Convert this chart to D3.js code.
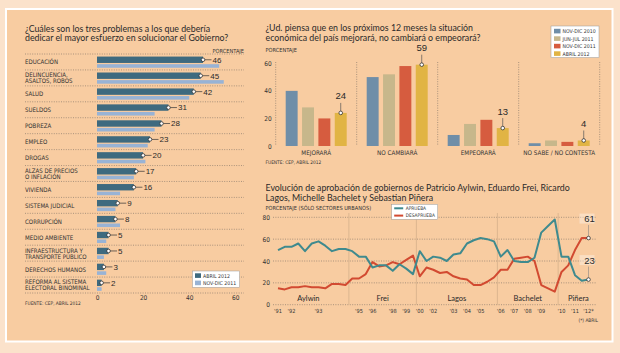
<!DOCTYPE html>
<html>
<head>
<meta charset="utf-8">
<script src="https://cdn.jsdelivr.net/npm/d3@7"></script>
<style>
  html, body { margin: 0; padding: 0; background: #fbe2cb; }
  svg { display: block; }
  .titulo { font-family: Lato, "Liberation Sans", sans-serif; font-size: 8.8px; fill: #2a2a2a; }
  .chico { font-family: "Liberation Sans Narrow", "DejaVu Sans Condensed", "Liberation Sans", sans-serif; font-size: 5.6px; fill: #333; }
  .cifra { font-family: "Liberation Sans", sans-serif; fill: #2a2a2a; }
</style>
</head>
<body>
<div id="chart"></div>
<script>
// problemas (izquierda)
const problemas = [
	"EDUCACIÓN",
	"DELINCUENCIA,|ASALTOS, ROBOS",
	"SALUD",
	"SUELDOS",
	"POBREZA",
	"EMPLEO",
	"DROGAS",
	"ALZAS DE PRECIOS|O INFLACIÓN",
	"VIVIENDA",
	"SISTEMA JUDICIAL",
	"CORRUPCIÓN",
	"MEDIO AMBIENTE",
	"INFRAESTRUCTURA Y|TRANSPORTE PÚBLICO",
	"DERECHOS HUMANOS",
	"REFORMA AL SISTEMA|ELECTORAL BINOMINAL",
];
const problemasAbril2012 = [46, 45, 42, 31, 28, 23, 20, 17, 16, 9, 8, 5, 5, 3, 2];
const problemasNovDic2011 = [53, 55, 40, 25, 25, 22, 21, 16, 10, 8, 10, 4, 3, 4, 2];
const problemasTicks = [0, 20, 40, 60];

// situación económica (arriba derecha)
const respuestas = ["MEJORARÁ", "NO CAMBIARÁ", "EMPEORARÁ", "NO SABE / NO CONTESTA"];
const periodos = ["NOV-DIC 2010", "JUN-JUL 2011", "NOV-DIC 2011", "ABRIL 2012"];
const econNovDic2010 = [40, 50, 8, 2];
const econJunJul2011 = [28, 52, 16, 4];
const econNovDic2011 = [20, 58, 19, 3];
const econAbril2012 = [24, 59, 13, 4];
const econTicks = [0, 20, 40, 60];

// aprobación de gobiernos (abajo derecha), una entrada por encuesta
const aprueba = [
	50, 53, 53, 56, 49, 56, 58, 54, 49, 51, 51, 49, 44, 44, 34, 36, 36, 31, 37, 33, 28, 49, 40, 44,
	43, 40, 46, 47, 56, 59, 61, 60, 58, 44, 50, 40, 39, 39, 43, 66, 72, 78, 44, 44, 27, 22, 23,
];
const desaprueba = [
	15, 14, 16, 16, 17, 16, 16, 15, 19, 19, 18, 24, 24, 28, 39, 35, 36, 39, 37, 41, 45, 26, 34, 32,
	29, 30, 26, 24, 23, 18, 18, 21, 25, 32, 32, 42, 43, 44, 40, 18, 15, 12, 30, 36, 50, 61, 61,
];
const anioLabels = ["'91", "'92", "'93", "'95", "'96", "'98", "'99", "'00", "'02", "'03", "'04", "'05", "'06", "'07", "'08", "'09", "'10", "'11", "'12*"];
const anioEncuesta = [0, 2, 6, 12, 14, 17, 19, 21, 23, 26, 28, 30, 33, 35, 37, 39, 42, 44, 46];
const gobiernos = ["Aylwin", "Frei", "Lagos", "Bachelet", "Piñera"];
const gobiernoDesde = [-1.5, 10.5, 20.5, 32.5, 41.5];
const gobiernoHasta = [10.5, 20.5, 32.5, 41.5, 47.5];
const aprobTicks = [0, 20, 40, 60, 80];

const width = 620;
const height = 353;

const colOscuro = "#3e6a7f";
const colClaro = "#98b3d5";
const colPeriodos = ["#6f8ea8", "#c7b78b", "#d65c3f", "#e1b444"];
const colAprueba = "#3f8a8e";
const colDesaprueba = "#d24a31";
const colPunteo = "#8a7a6c";

const svg = d3
	.select("#chart")
	.append("svg")
	.attr("viewBox", `0 0 ${width} ${height}`)
	.attr("width", width)
	.attr("height", height);

svg.append("rect").attr("width", width).attr("height", height).attr("fill", "#fbe2cb");
svg
	.append("rect")
	.attr("x", 6)
	.attr("y", 9)
	.attr("width", 606.5)
	.attr("height", 332.5)
	.attr("fill", "#f8cca1")
	.attr("stroke", "#fff")
	.attr("stroke-width", 2);

const titulo = (g, x, y, lines) => {
	lines.forEach((t, i) => {
		g.append("text").attr("class", "titulo").attr("x", x).attr("y", y + i * 9.6).text(t);
	});
};

const punteada = (g, x1, y1, x2, y2) =>
	g
		.append("line")
		.attr("x1", x1)
		.attr("y1", y1)
		.attr("x2", x2)
		.attr("y2", y2)
		.attr("stroke", colPunteo)
		.attr("stroke-width", 0.7)
		.attr("stroke-dasharray", "1,1.4");

const marcaBlanca = (g, cx, cy) =>
	g
		.append("circle")
		.attr("cx", cx)
		.attr("cy", cy)
		.attr("r", 1.8)
		.attr("fill", "#fff")
		.attr("stroke", "#333")
		.attr("stroke-width", 0.8);

// ---------- izquierda: problemas ----------
const izq = svg.append("g");
titulo(izq, 25, 31.8, [
	"¿Cuáles son los tres problemas a los que debería",
	"dedicar el mayor esfuerzo en solucionar el Gobierno?",
]);
izq.append("text").attr("class", "chico").attr("x", 244).attr("y", 52.5).attr("text-anchor", "end").text("PORCENTAJE");

const xL = d3.scaleLinear().domain([0, 60]).range([97, 235.3]);
const yL = d3.scaleBand().domain(problemas).range([54, 293]);
const bw = yL.bandwidth();

problemas.forEach((p) => punteada(izq, 25, yL(p), 244, yL(p)));
punteada(izq, 25, 293, 244, 293);

problemas.forEach((p, i) => {
	const cy = yL(p) + bw / 2;
	const lines = p.split("|");
	lines.forEach((t, k) => {
		izq
			.append("text")
			.attr("class", "chico")
			.style("font-size", "6.1px")
			.attr("x", 25)
			.attr("y", cy + 2.4 + (k - (lines.length - 1) / 2) * 6)
			.text(t);
	});

	izq
		.append("rect")
		.attr("x", xL(0))
		.attr("y", cy + 2.2)
		.attr("width", xL(problemasNovDic2011[i]) - xL(0))
		.attr("height", 3.6)
		.attr("fill", colClaro);

	izq
		.append("rect")
		.attr("x", xL(0))
		.attr("y", cy - 5.4)
		.attr("width", xL(problemasAbril2012[i]) - xL(0))
		.attr("height", 6.4)
		.attr("fill", colOscuro);

	const xe = xL(problemasAbril2012[i]);
	izq
		.append("line")
		.attr("x1", xe)
		.attr("x2", xe + 8.5)
		.attr("y1", cy - 2.2)
		.attr("y2", cy - 2.2)
		.attr("stroke", "#333")
		.attr("stroke-width", 0.7);
	marcaBlanca(izq, xe, cy - 2.2);
	izq
		.append("text")
		.attr("class", "cifra")
		.style("font-size", "8px")
		.attr("x", xe + 9.5)
		.attr("y", cy + 0.7)
		.text(problemasAbril2012[i]);
});

const ejeL = izq
	.append("g")
	.attr("transform", "translate(0,293)")
	.call(d3.axisBottom(xL).tickValues(problemasTicks).tickSize(0).tickPadding(2));
ejeL.select(".domain").remove();
ejeL.selectAll("text").attr("class", "chico").style("font-size", "6.5px");

// leyenda izquierda
const legL = izq.append("g").attr("transform", "translate(192.5,271)");
legL.append("rect").attr("width", 47).attr("height", 16.3).attr("fill", "#fff").attr("stroke", "#999").attr("stroke-width", 0.5);
[["ABRIL 2012", colOscuro], ["NOV-DIC 2011", colClaro]].forEach(([t, c], i) => {
	legL.append("rect").attr("x", 2.5).attr("y", 2.3 + i * 7.3).attr("width", 6).attr("height", 4.6).attr("fill", c);
	legL.append("text").attr("class", "chico").style("font-size", "5.2px").attr("x", 10.5).attr("y", 6.6 + i * 7.3).text(t);
});

izq.append("text").attr("class", "chico").style("font-size", "4.8px").attr("x", 25).attr("y", 305).text("FUENTE: CEP, ABRIL 2012");

// ---------- arriba derecha: situación económica ----------
const der = svg.append("g");
titulo(der, 265.5, 31, [
	"¿Ud. piensa que en los próximos 12 meses la situación",
	"económica del país mejorará, no cambiará o empeorará?",
]);
der.append("text").attr("class", "chico").attr("x", 265.5).attr("y", 52.3).text("PORCENTAJE");

const econ = [econNovDic2010, econJunJul2011, econNovDic2011, econAbril2012];
const xG = d3.scaleBand().domain(respuestas).range([275.7, 599.7]);
const xP = d3.scaleBand().domain(periodos).range([10, 71]).paddingInner(0.27);
const yE = d3.scaleLinear().domain([0, 60]).range([146, 63.3]);
const colorP = d3.scaleOrdinal().domain(periodos).range(colPeriodos);

respuestas.forEach((r) => punteada(der, xG(r), 62, xG(r), 146));
punteada(der, 599.7, 62, 599.7, 146);

const ejeE = der
	.append("g")
	.attr("transform", "translate(275.7,0)")
	.call(d3.axisLeft(yE).tickValues(econTicks).tickSize(0).tickPadding(4));
ejeE.select(".domain").remove();
ejeE.selectAll("text").attr("class", "chico").style("font-size", "6.5px");

const grupos = der
	.selectAll("g.grupo")
	.data(respuestas)
	.enter()
	.append("g")
	.attr("class", "grupo")
	.attr("transform", (d) => `translate(${xG(d)},0)`);

grupos
	.selectAll("rect")
	.data((d, i) => periodos.map((p, k) => ({ p, v: econ[k][i] })))
	.enter()
	.append("rect")
	.attr("x", (d) => xP(d.p))
	.attr("y", (d) => yE(d.v))
	.attr("width", xP.bandwidth())
	.attr("height", (d) => yE(0) - yE(d.v))
	.attr("fill", (d) => colorP(d.p));

respuestas.forEach((r, i) => {
	der
		.append("text")
		.attr("class", "chico")
		.style("font-size", "6.3px")
		.attr("x", xG(r) + xG.bandwidth() / 2)
		.attr("y", 154.5)
		.attr("text-anchor", "middle")
		.text(r);

	const cx = xG(r) + xP("ABRIL 2012") + xP.bandwidth() / 2;
	const cy = yE(econAbril2012[i]);
	der.append("line").attr("x1", cx).attr("x2", cx).attr("y1", cy).attr("y2", cy - 10).attr("stroke", "#555").attr("stroke-width", 0.7);
	marcaBlanca(der, cx, cy);
	der
		.append("text")
		.attr("class", "cifra")
		.style("font-size", "9.5px")
		.attr("x", cx)
		.attr("y", cy - 13.5)
		.attr("text-anchor", "middle")
		.text(econAbril2012[i]);
});

const legE = der.append("g").attr("transform", "translate(551,26)");
legE.append("rect").attr("width", 48).attr("height", 31.5).attr("fill", "#fff").attr("stroke", "#999").attr("stroke-width", 0.5);
periodos.forEach((p, i) => {
	legE.append("rect").attr("x", 3).attr("y", 2.8 + i * 7.5).attr("width", 6.5).attr("height", 4.6).attr("fill", colorP(p));
	legE.append("text").attr("class", "chico").style("font-size", "5.2px").attr("x", 11.5).attr("y", 7.1 + i * 7.5).text(p);
});

der.append("text").attr("class", "chico").style("font-size", "4.8px").attr("x", 265.5).attr("y", 164).text("FUENTE: CEP, ABRIL 2012");

// ---------- abajo derecha: aprobación ----------
const apr = svg.append("g");
titulo(apr, 265.5, 191.3, [
	"Evolución de aprobación de gobiernos de Patricio Aylwin, Eduardo Frei, Ricardo",
	"Lagos, Michelle Bachelet y Sebastian Piñera",
]);
apr.append("text").attr("class", "chico").attr("x", 265.5).attr("y", 210).text("PORCENTAJE (SÓLO SECTORES URBANOS)");

const xA = d3.scaleLinear().domain([0, aprueba.length - 1]).range([278, 588.5]);
const yA = d3.scaleLinear().domain([0, 80]).range([304.7, 217.3]);

aprobTicks.forEach((t) => punteada(apr, 273, yA(t), 596, yA(t)));

const ejeA = apr
	.append("g")
	.attr("transform", "translate(273,0)")
	.call(d3.axisLeft(yA).tickValues(aprobTicks).tickSize(0).tickPadding(3));
ejeA.select(".domain").remove();
ejeA.selectAll("text").attr("class", "chico").style("font-size", "6.5px");

gobiernos.forEach((g, i) => {
	if (i > 0) {
		apr
			.append("line")
			.attr("x1", xA(gobiernoDesde[i]))
			.attr("x2", xA(gobiernoDesde[i]))
			.attr("y1", 213)
			.attr("y2", yA(0))
			.attr("stroke", "#d9b38d")
			.attr("stroke-width", 0.9);
	}
	apr
		.append("text")
		.attr("class", "titulo")
		.style("font-size", "7.5px")
		.attr("x", xA((gobiernoDesde[i] + gobiernoHasta[i]) / 2))
		.attr("y", 301)
		.attr("text-anchor", "middle")
		.text(g);
});

anioLabels.forEach((t, i) => {
	apr
		.append("text")
		.attr("class", "chico")
		.style("font-size", "5.6px")
		.attr("x", xA(anioEncuesta[i]))
		.attr("y", 312.5)
		.attr("text-anchor", "middle")
		.text(t);
});
apr.append("text").attr("class", "chico").style("font-size", "4.8px").attr("x", 598).attr("y", 322).attr("text-anchor", "end").text("(*) ABRIL");

const linea = d3
	.line()
	.x((d, i) => xA(i))
	.y((d) => yA(d));

[[desaprueba, colDesaprueba], [aprueba, colAprueba]].forEach(([serie, c]) => {
	apr
		.append("path")
		.datum(serie)
		.attr("d", linea)
		.attr("fill", "none")
		.attr("stroke", c)
		.attr("stroke-width", 2)
		.attr("stroke-linejoin", "round");
});

[desaprueba, aprueba].forEach((serie) => {
	const n = serie.length - 1;
	const cx = xA(n);
	const cy = yA(serie[n]);
	apr.append("line").attr("x1", cx).attr("x2", cx).attr("y1", cy).attr("y2", cy - 13).attr("stroke", "#9a8f86").attr("stroke-width", 0.7);
	apr.append("rect").attr("x", cx - 9).attr("y", cy - 24.5).attr("width", 15).attr("height", 10).attr("fill", "#fff").attr("opacity", 0.35);
	marcaBlanca(apr, cx, cy);
	apr
		.append("text")
		.attr("class", "cifra")
		.style("font-size", "9.5px")
		.attr("x", cx + 1)
		.attr("y", cy - 16)
		.attr("text-anchor", "middle")
		.text(serie[n]);
});

const legA = apr.append("g").attr("transform", "translate(391.7,204.3)");
legA.append("rect").attr("width", 46).attr("height", 15).attr("fill", "#fff").attr("stroke", "#999").attr("stroke-width", 0.5);
[["APRUEBA", colAprueba], ["DESAPRUEBA", colDesaprueba]].forEach(([t, c], i) => {
	legA.append("line").attr("x1", 2.5).attr("x2", 11.5).attr("y1", 4 + i * 7.3).attr("y2", 4 + i * 7.3).attr("stroke", c).attr("stroke-width", 2);
	legA.append("text").attr("class", "chico").style("font-size", "4.8px").attr("x", 14).attr("y", 5.8 + i * 7.3).text(t);
});
</script>
</body>
</html>
